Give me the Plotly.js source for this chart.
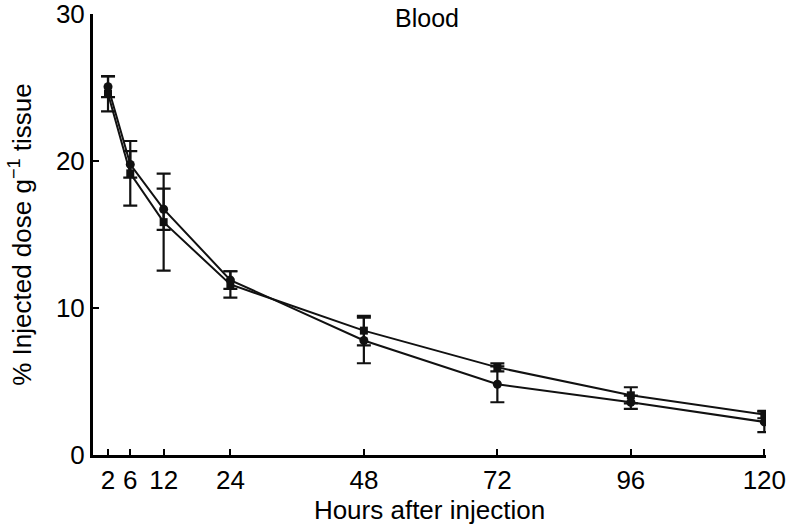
<!DOCTYPE html>
<html>
<head>
<meta charset="utf-8">
<script src="https://cdn.plot.ly/plotly-3.0.1.min.js"></script>
<style>html,body{margin:0;padding:0;background:#fff;}</style>
</head>
<body>
<div id="chart" style="width:786px;height:530px;"></div>
<script>
const hours = [2, 6, 12, 24, 48, 72, 96, 120];
const tickLabels = ['2', '6', '12', '24', '48', '72', '96', '120'];
const circleValues = [25.05, 19.77, 16.72, 11.9, 7.79, 4.81, 3.59, 2.25];
const circleErrors = [0.7, 0.9, 1.4, 0.6, 1.55, 1.22, 0.45, 0.7];
const squareValues = [24.58, 19.16, 15.84, 11.6, 8.46, 5.96, 4.06, 2.75];
const squareErrors = [1.2, 2.2, 3.3, 0.9, 1.0, 0.27, 0.55, 0.25];
const yTicks = [0, 10, 20, 30];

const font = 'Liberation Sans, Arial, Helvetica, sans-serif';

const traces = [
  {
    x: hours, y: squareValues, type: 'scatter', mode: 'lines+markers',
    line: {color: '#111', width: 2},
    marker: {symbol: 'square', size: 8, color: '#111'},
    error_y: {type: 'data', array: squareErrors, visible: true, color: '#111', thickness: 2.2, width: 7},
    showlegend: false
  },
  {
    x: hours, y: circleValues, type: 'scatter', mode: 'lines+markers',
    line: {color: '#111', width: 2},
    marker: {symbol: 'circle', size: 9, color: '#111'},
    error_y: {type: 'data', array: circleErrors, visible: true, color: '#111', thickness: 2.2, width: 7},
    showlegend: false
  }
];

const layout = {
  width: 786, height: 530,
  margin: {l: 93, r: 20, t: 14, b: 75},
  paper_bgcolor: '#fff', plot_bgcolor: '#fff',
  font: {family: font, color: '#000', size: 26},
  xaxis: {
    range: [-0.7, 120.3],
    tickvals: hours, ticktext: tickLabels,
    ticks: 'inside', ticklen: 6, tickwidth: 2, tickcolor: '#000',
    showline: true, linecolor: '#000', linewidth: 3,
    showgrid: false, zeroline: false,
    ticklabeloverflow: 'allow',
    tickfont: {family: font, size: 26},
    title: {text: 'Hours after injection', font: {family: font, size: 26}, standoff: 6}
  },
  yaxis: {
    range: [0, 30],
    tickvals: yTicks,
    ticks: 'inside', ticklen: 6, tickwidth: 2, tickcolor: '#000',
    showline: true, linecolor: '#000', linewidth: 3,
    showgrid: false, zeroline: false,
    ticklabeloverflow: 'allow',
    tickfont: {family: font, size: 26},
    title: {text: '% Injected dose g<sup>\u22121</sup> tissue', font: {family: font, size: 26}, standoff: 17}
  },
  annotations: [{
    text: 'Blood', xref: 'paper', yref: 'paper', x: 0.496, y: 1.0,
    xanchor: 'center', yanchor: 'top', yshift: 12, showarrow: false,
    font: {family: font, size: 25, color: '#000'}
  }]
};

Plotly.newPlot('chart', traces, layout, {displayModeBar: false, staticPlot: true});
</script>
</body>
</html>
